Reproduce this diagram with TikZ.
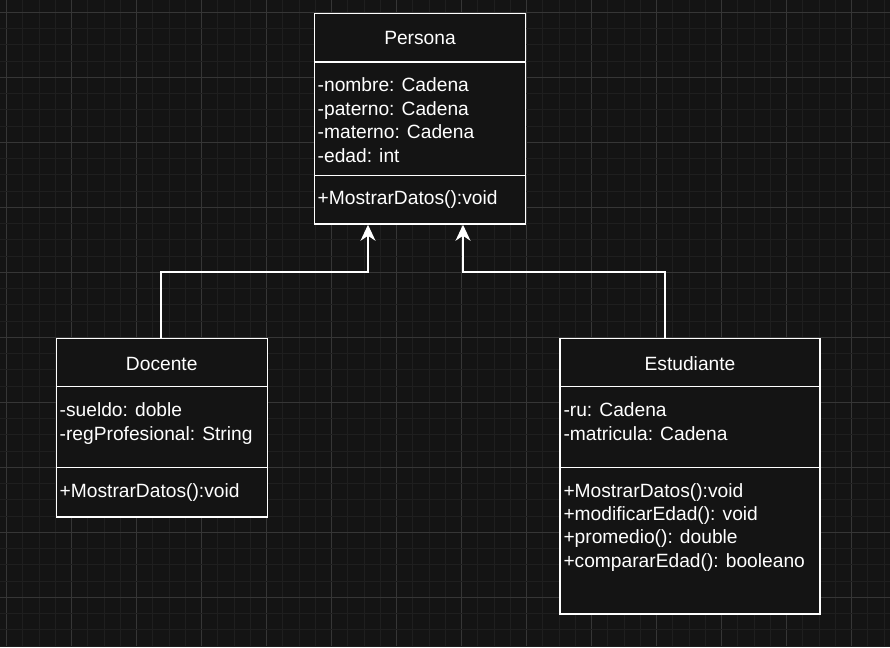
\documentclass[tikz,border=0pt]{standalone}
\usepackage{fontspec}
\setmainfont{Liberation Sans}
\usetikzlibrary{arrows.meta}
\definecolor{bg}{HTML}{141414}
\definecolor{minorgrid}{HTML}{1F1F1F}
\definecolor{majorgrid}{HTML}{363636}
\definecolor{boxfill}{HTML}{141414}
\tikzset{
  classbox/.style={draw=white, fill=boxfill, line width=1.5pt, inner sep=0pt, rectangle},
  divider/.style={draw=white, line width=1.5pt},
  txt/.style={anchor=base west, inner sep=0pt, text=white, font=\fontsize{19.2}{23.5}\selectfont},
  title/.style={anchor=base, inner sep=0pt, text=white, font=\fontsize{19.2}{23.5}\selectfont},
  inh/.style={draw=white, line width=1.5pt, -{Stealth[length=16pt,width=15pt,inset=5pt,fill=white]}}
}
\begin{document}
\begin{tikzpicture}[x=1pt,y=-1pt]
\fill[bg] (0,0) rectangle (890,647);
\useasboundingbox (0,0) rectangle (890,647);
% grid
\foreach \k in {0,...,54} {
  \pgfmathsetmacro{\xx}{6.5+16.25*\k}
  \pgfmathtruncatemacro{\m}{mod(\k,4)}
  \ifnum\m=0 \draw[majorgrid, line width=1pt] (\xx,0) -- (\xx,647);
  \else \draw[minorgrid, line width=1pt] (\xx,0) -- (\xx,647); \fi
}
\foreach \k in {0,...,39} {
  \pgfmathsetmacro{\yy}{12.3+16.25*\k}
  \pgfmathtruncatemacro{\m}{mod(\k,4)}
  \ifnum\m=0 \draw[majorgrid, line width=1pt] (0,\yy) -- (890,\yy);
  \else \draw[minorgrid, line width=1pt] (0,\yy) -- (890,\yy); \fi
}
% Persona
\node[classbox, minimum width=211pt, minimum height=210.5pt] (persona) at (420,118.75) {};
\draw[divider] (persona.west |- 0,62) -- (persona.east |- 0,62);
\draw[divider] (persona.west |- 0,175.5) -- (persona.east |- 0,175.5);
\node[title] (personaT) at (420,45) {Persona};
\node[txt] (pa1) at (317.5,91.7) {-nombre: Cadena};
\node[txt] (pa2) at (317.5,115.2) {-paterno: Cadena};
\node[txt] (pa3) at (317.5,138.7) {-materno: Cadena};
\node[txt] (pa4) at (317.5,162.2) {-edad: int};
\node[txt] (pm1) at (317.5,204) {+MostrarDatos():void};
% Docente
\node[classbox, minimum width=211pt, minimum height=178.5pt] (docente) at (161.75,427.75) {};
\draw[divider] (docente.west |- 0,386.5) -- (docente.east |- 0,386.5);
\draw[divider] (docente.west |- 0,467.5) -- (docente.east |- 0,467.5);
\node[title] (docenteT) at (161.75,370) {Docente};
\node[txt] (da1) at (59.5,416.7) {-sueldo: doble};
\node[txt] (da2) at (59.5,440.1) {-regProfesional: String};
\node[txt] (dm1) at (59.5,497.4) {+MostrarDatos():void};
% Estudiante
\node[classbox, minimum width=260pt, minimum height=275.5pt] (estudiante) at (690,476.25) {};
\draw[divider] (estudiante.west |- 0,386.5) -- (estudiante.east |- 0,386.5);
\draw[divider] (estudiante.west |- 0,467.5) -- (estudiante.east |- 0,467.5);
\node[title] (estudianteT) at (690,370) {Estudiante};
\node[txt] (ea1) at (563.3,416.7) {-ru: Cadena};
\node[txt] (ea2) at (563.3,440.1) {-matricula: Cadena};
\node[txt] (em1) at (563.3,497.4) {+MostrarDatos():void};
\node[txt] (em2) at (563.3,520.5) {+modificarEdad(): void};
\node[txt] (em3) at (563.3,543.9) {+promedio(): double};
\node[txt] (em4) at (563.3,567.1) {+compararEdad(): booleano};
% inheritance
\coordinate (dstart) at ([xshift=-0.75pt]docente.north);
\coordinate (estart) at ([xshift=-25pt]estudiante.north);
\draw[inh] (dstart) -- (dstart |- 0,272) -| ([xshift=-52pt]persona.south);
\draw[inh] (estart) -- (estart |- 0,272) -| ([xshift=43pt]persona.south);
\end{tikzpicture}
\end{document}
